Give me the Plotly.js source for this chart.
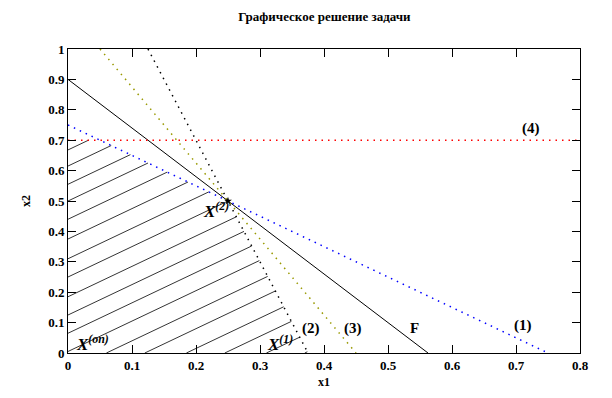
<!DOCTYPE html>
<html>
<head>
<meta charset="utf-8">
<script src="https://cdn.plot.ly/plotly-3.0.1.min.js"></script>
<style>html,body{margin:0;padding:0;background:#fff}#chart{width:612px;height:398px}</style>
</head>
<body>
<div id="chart"></div>
<script>
// Constraint lines (endpoints)
var line1X = [0, 0.75],   line1Y = [0.75, 0];     // (1) x1 + x2 = 0.75
var line2X = [0.125, 0.375], line2Y = [1, 0];     // (2) 4x1 + x2 = 1.5
var line3X = [0.05, 0.45], line3Y = [1, 0];       // (3)
var line4X = [0, 0.8],    line4Y = [0.7, 0.7];    // (4) x2 = 0.7
var lineFX = [0, 0.5625], lineFY = [0.9, 0];      // F
var pointX2 = [0.25], pointY2 = [0.5];            // X(2)

// Feasible region constraints a1*x1 + a2*x2 <= b
var consA1 = [1, 4, 0];
var consA2 = [1, 1, 1];
var consB  = [0.75, 1.5, 0.7];

// Hatching: lines x2 = hatchSlope*x1 + c
var hatchSlope = 1.0;
var hatchOffsets = [-0.43, -0.37, -0.31, -0.245, -0.185, -0.12, -0.06, 0.005, 0.065, 0.125, 0.185, 0.25, 0.31, 0.375, 0.44, 0.5, 0.555, 0.615, 0.668];

var labelTexts = ['(1)', '(2)', '(3)', '(4)', 'F'];
var labelX = [0.711, 0.38, 0.445, 0.723, 0.542];
var labelY = [0.092, 0.079, 0.079, 0.737, 0.082];

var pointLabels = ['X<sup>(2)</sup>', 'X<sup>(1)</sup>', 'X<sup>(оп)</sup>'];
var pointLabelX = [0.232, 0.331, 0.039];
var pointLabelY = [0.47, 0.033, 0.033];

var serif = '"Liberation Serif", "Times New Roman", Times, serif';

// build hatch segments clipped to feasible region
var hx = [], hy = [];
hatchOffsets.forEach(function(c){
  var x0 = c >= 0 ? 0 : -c / hatchSlope;
  var xEnd = Infinity;
  for (var i = 0; i < consB.length; i++) {
    var denom = consA1[i] + consA2[i] * hatchSlope;
    if (denom > 0) xEnd = Math.min(xEnd, (consB[i] - consA2[i] * c) / denom);
  }
  if (xEnd > x0) {
    hx.push(x0, xEnd, null);
    hy.push(hatchSlope * x0 + c, hatchSlope * xEnd + c, null);
  }
});

var dots = '1.5px,5px';
var traces = [
  {x: hx, y: hy, mode: 'lines', line: {color: '#000', width: 0.8}, hoverinfo: 'skip'},
  {x: lineFX, y: lineFY, mode: 'lines', line: {color: '#000', width: 1}},
  {x: line1X, y: line1Y, mode: 'lines', line: {color: '#0000ff', width: 1.5, dash: dots}},
  {x: line2X, y: line2Y, mode: 'lines', line: {color: '#000', width: 1.5, dash: dots}},
  {x: line3X, y: line3Y, mode: 'lines', line: {color: '#999900', width: 1.5, dash: dots}},
  {x: line4X, y: line4Y, mode: 'lines', line: {color: '#ff0000', width: 1.5, dash: dots}},
  {x: pointX2, y: pointY2, mode: 'markers', marker: {symbol: 'star', size: 6, color: '#000'}}
];

var ann = [];
labelTexts.forEach(function(t, i){
  ann.push({x: labelX[i], y: labelY[i], xref: 'x', yref: 'y', text: '<b>' + t + '</b>', showarrow: false,
    font: {family: serif, size: 15, color: '#000'}});
});
pointLabels.forEach(function(t, i){
  ann.push({x: pointLabelX[i], y: pointLabelY[i], xref: 'x', yref: 'y', text: '<b><i>' + t + '</i></b>', showarrow: false,
    font: {family: serif, size: 17, color: '#000'}});
});

var axisCommon = {
  showgrid: false, zeroline: false, showline: true, linecolor: '#000', linewidth: 1,
  mirror: 'ticks', ticks: 'inside', ticklen: 8, tickcolor: '#000', tickwidth: 1,
  tickfont: {family: serif, size: 13, color: '#000', weight: 'bold'}
};

var layout = {
  width: 612, height: 398,
  margin: {l: 68, r: 32, t: 49, b: 45},
  paper_bgcolor: '#fff', plot_bgcolor: '#fff',
  showlegend: false,
  title: {text: '<b>Графическое решение задачи</b>', x: 0.53, xanchor: 'center', y: 0.97,
    font: {family: serif, size: 13, color: '#000'}},
  xaxis: Object.assign({}, axisCommon, {range: [0, 0.8], dtick: 0.1, tick0: 0,
    title: {text: '<b>x1</b>', standoff: 6, font: {family: serif, size: 12, color: '#000'}}}),
  yaxis: Object.assign({}, axisCommon, {range: [0, 1], dtick: 0.1, tick0: 0,
    title: {text: '<b>x2</b>', standoff: 14, font: {family: serif, size: 12, color: '#000'}}}),
  annotations: ann
};

Plotly.newPlot('chart', traces, layout, {displayModeBar: false, staticPlot: true});
</script>
</body>
</html>
